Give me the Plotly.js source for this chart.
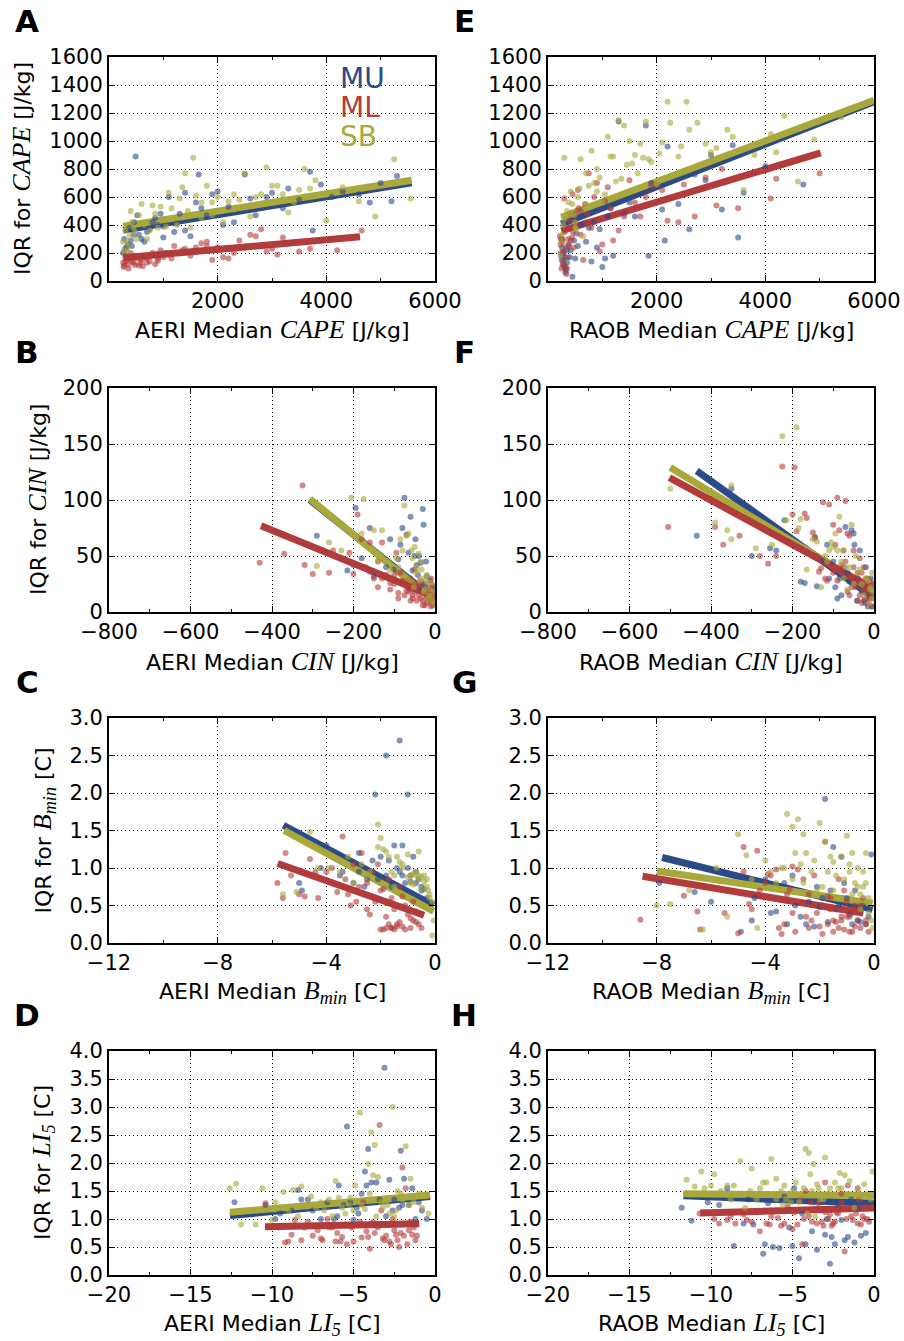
<!DOCTYPE html>
<html><head><meta charset="utf-8">
<script src="https://cdn.plot.ly/plotly-3.0.1.min.js"></script>
<style>html,body{margin:0;padding:0;background:#fff}</style>
</head><body><div id="chart" style="width:904px;height:1341px"></div>
<script>
// ---------- Panel A: AERI CAPE ----------
const aMuX=[300,350,400,450,490,520,600,700,800,900,1000,1100,1200,1300,1400,1500,1650,1700,1800,1900,2000,2100,2300,2500,2700,2900,3000,3200,3500,3700,3750,3900,4100,4300,4600,4800,5000,5300,5200,
 260,280,320,380,420,460,550,650,750,850,950,1250,1600,2200,2600,3300,1000,1400];
const aMuY=[230,260,290,330,890,470,300,350,420,400,310,600,350,480,630,320,760,520,470,620,640,400,420,760,470,600,630,520,580,780,360,690,600,640,620,560,700,750,570,
 200,300,240,380,250,420,330,280,370,450,480,410,560,530,590,660,390,360];
const aMlX=[280,300,320,350,380,400,450,500,550,600,650,700,750,800,850,900,950,1000,1100,1200,1300,1400,1500,1600,1700,1800,1900,2000,2100,2200,2400,2600,2700,2800,2900,3100,3200,3500,3700,4650,4200,
 260,270,300,330,360,420,480,520,580,620,700,900,1050,1150,1350,1600,1800,2300,2500,3000];
const aMlY=[110,140,190,120,160,200,130,180,110,150,170,130,140,200,120,160,220,170,190,250,200,230,180,210,270,280,150,240,170,160,290,330,320,370,210,190,310,210,230,360,220,
 130,100,170,150,90,140,115,160,130,105,165,145,200,160,220,240,250,200,240,230];
const aSbX=[280,320,360,400,450,500,600,700,800,900,1000,1100,1150,1250,1350,1400,1500,1550,1600,1700,1800,1900,2000,2100,2200,2300,2400,2500,2600,2800,2900,3000,3100,3300,3500,3600,3700,3800,4000,4300,4600,4900,5250,5550,
 260,300,340,380,420,480,550,650,750,850,950,1050,1300,1450,1700,1900,2300,2700,3200,3400];
const aSbY=[220,290,250,500,380,300,550,300,540,380,440,630,520,400,670,770,380,880,610,450,680,560,600,420,570,620,580,770,460,620,810,680,680,490,650,800,660,720,430,670,570,460,870,590,
 280,360,210,330,420,350,470,400,360,480,530,390,590,500,560,470,510,600,620,560];
const aFitMuX=[264,5570], aFitMuY=[364,701];
const aFitMlX=[264,4620], aFitMlY=[166,316];
const aFitSbX=[264,5570], aFitSbY=[392,720];

// ---------- Panel E: RAOB CAPE ----------
const eMuX=[250,280,300,320,350,400,450,500,550,600,700,800,900,1000,1050,1100,1200,1300,1400,1500,1600,1800,1850,1900,2100,2150,2200,2400,2600,2700,2900,3000,3200,3400,3500,3600,4000,4700,250,350,
 240,260,270,290,310,330,380,420,480,520,650,750,850,950,1150];
const eMuY=[180,150,100,60,130,170,30,160,250,400,280,140,240,100,160,460,180,1140,480,560,460,1110,180,700,510,290,960,550,370,760,720,900,510,970,310,630,820,690,300,220,
 300,240,120,200,170,80,260,220,290,340,410,380,420,370,520];
const eMlX=[230,250,260,280,300,320,340,360,380,400,420,450,480,500,550,600,650,700,750,800,900,950,1000,1050,1100,1200,1300,1400,1500,1600,1700,1800,1900,2000,2100,2200,2400,2500,2700,2900,3100,3200,3500,4100,4200,5000,
 220,240,250,270,290,310,330,350,370,390,410,440,460,520,560,600,680,720,850,1150];
const eMlY=[260,90,300,210,590,100,50,170,250,480,290,620,240,480,650,500,150,420,770,380,700,210,260,570,670,290,360,460,720,560,460,600,680,690,650,430,420,690,460,740,540,800,520,590,730,770,
 320,200,150,280,120,350,240,90,300,380,430,310,350,410,520,330,550,480,600,520];
const eSbX=[230,260,300,350,400,450,500,550,600,650,700,800,850,900,1000,1100,1150,1250,1300,1400,1500,1550,1600,1700,1750,1800,1900,2000,2100,2200,2250,2400,2550,2600,2750,2900,3000,3100,3300,3400,3600,3800,4100,4200,4350,4600,4900,5400,300,500,
 240,280,320,380,420,480,520,580,700,750,900,950,1050,1200,1350,1450,1650,1850,2050,2450];
const eSbY=[180,330,880,500,480,550,420,600,870,320,770,930,700,800,560,1030,890,710,1150,1110,1000,840,900,980,880,1140,850,690,990,1280,1130,890,1280,1080,1130,980,920,950,1080,1030,650,900,1050,920,1180,710,1010,1170,440,380,
 290,400,460,560,640,470,370,660,550,680,640,740,620,890,730,830,770,870,910,960];
const eFitMuX=[245,6000], eFitMuY=[407,1280];
const eFitMlX=[245,5020], eFitMlY=[359,915];
const eFitSbX=[245,6000], eFitSbY=[456,1291];

// ---------- Panel B: AERI CIN ----------
const bMuX=[-290,-215,-195,-160,-150,-110,-90,-80,-75,-70,-65,-60,-55,-50,-45,-40,-35,-30,-28,-25,-20,-15,-10,-5,-180,-100,-120,
 -85,-62,-48,-42,-38,-32,-22,-18,-12,-8,-4,-2];
const bMuY=[68,37,93,75,32,65,47,75,102,69,53,85,37,50,42,50,44,92,78,25,32,20,15,10,48,38,40,
 60,28,65,33,20,25,45,18,28,12,22,8];
const bMlX=[-430,-370,-325,-320,-300,-260,-250,-210,-200,-190,-180,-170,-160,-150,-140,-130,-120,-110,-100,-95,-90,-85,-80,-75,-70,-65,-60,-55,-50,-45,-40,-35,-30,-25,-20,-15,-10,-8,-5,-3,-60,-40,-20,-10,-50,-30,-200,-140,
 -70,-65,-60,-55,-50,-45,-40,-35,-30,-25,-22,-18,-15,-12,-10,-8,-6,-4,-2,-1,-90,-110,-130,-160,-100];
const bMlY=[44,52,113,42,34,35,55,53,42,87,65,40,62,30,22,62,33,20,25,53,17,35,28,15,19,18,30,12,25,20,15,28,10,22,8,18,5,20,12,8,10,25,14,30,38,6,34,45,
 28,22,20,15,18,10,24,12,18,6,16,12,22,14,9,25,6,16,11,20,12,26,30,36,33];
const bSbX=[-290,-260,-205,-175,-150,-130,-110,-95,-85,-80,-75,-70,-65,-60,-55,-50,-45,-40,-35,-30,-25,-20,-15,-10,-5,-180,-140,-230,
 -90,-68,-58,-52,-46,-38,-33,-27,-22,-17,-12,-8,-4,-2];
const bSbY=[41,62,102,101,73,73,37,48,65,55,95,68,70,28,48,58,35,52,45,30,20,33,15,26,10,70,46,55,
 40,30,55,22,40,28,38,18,28,12,20,14,8,18];
const bFitMuX=[-307,-3], bFitMuY=[100,12];
const bFitMlX=[-427,-3], bFitMlY=[77,14];
const bFitSbX=[-307,-3], bFitSbY=[101,10];

// ---------- Panel F: RAOB CIN ----------
const fMuX=[-435,-350,-300,-255,-240,-220,-180,-170,-145,-140,-125,-110,-100,-90,-75,-70,-60,-55,-50,-40,-35,-30,-25,-20,-15,-10,-5,-115,-65,
 -95,-85,-80,-48,-42,-28,-22,-18,-12,-8,-4];
const fMuY=[68,110,50,57,55,82,27,26,67,23,46,30,45,12,37,76,27,73,70,30,55,18,10,40,5,20,15,60,35,
 22,30,15,60,10,25,8,20,12,30,5];
const fMlX=[-505,-390,-370,-330,-280,-260,-240,-225,-200,-195,-190,-170,-165,-150,-145,-135,-130,-125,-120,-110,-100,-95,-90,-85,-80,-75,-70,-65,-60,-55,-50,-45,-40,-35,-30,-25,-20,-15,-10,-5,-60,-40,-20,-30,-100,-140,-115,
 -50,-45,-40,-35,-30,-28,-25,-22,-20,-18,-15,-12,-10,-8,-6,-4,-2,-1,-70,-80,-90,-55,-65,-75];
const fMlY=[76,76,60,68,50,43,50,130,87,129,72,88,84,71,66,36,39,98,30,96,78,60,102,73,42,55,99,70,68,30,55,22,35,48,27,40,18,30,12,25,15,10,20,8,35,50,28,
 40,25,30,15,35,20,25,12,30,22,8,18,28,15,5,20,12,25,45,35,28,22,18,40];
const fSbX=[-500,-390,-360,-350,-350,-290,-250,-225,-215,-190,-185,-180,-165,-150,-140,-130,-120,-110,-100,-95,-85,-80,-75,-65,-55,-45,-40,-30,-20,-10,-5,-90,-60,
 -115,-105,-75,-70,-50,-35,-25,-15,-12,-8,-5,-3];
const fSbY=[110,80,73,113,65,57,60,157,82,165,75,83,38,65,63,22,50,55,58,70,85,45,55,20,78,50,35,25,30,20,12,55,40,
 45,62,30,40,25,38,15,28,8,22,35,18];
const fFitMuX=[-435,-5], fFitMuY=[126,14];
const fFitMlX=[-502,-2], fFitMlY=[120,21];
const fFitSbX=[-500,-5], fFitSbY=[129,20];

// ---------- Panel C: AERI Bmin ----------
const cMuX=[-5.0,-4.9,-4.2,-4.0,-3.5,-3.0,-2.8,-2.5,-2.2,-2.0,-1.8,-1.7,-1.6,-1.5,-1.3,-1.2,-1.0,-0.9,-0.8,-0.7,-0.6,-0.5,-0.3,-1.8,-2.1,-1.0,-1.3,-2.6,-3.4,
 -1.4,-1.2,-1.1,-0.9,-0.7,-0.5,-0.4,-0.2,-2.3,-2.8];
const cMuY=[0.8,0.7,1.0,1.3,0.9,0.8,1.2,0.85,1.98,1.15,2.5,1.1,0.75,1.3,2.7,1.3,1.98,0.9,1.15,0.8,0.85,0.75,0.6,0.9,0.85,1.0,0.95,0.75,0.95,
 1.0,0.9,0.8,0.82,0.95,0.7,0.72,0.55,1.1,0.95];
const cMlX=[-5.8,-5.6,-5.5,-5.3,-5.0,-4.8,-4.6,-4.3,-4.0,-3.8,-3.6,-3.4,-3.2,-3.0,-2.9,-2.7,-2.5,-2.4,-2.2,-2.0,-1.9,-1.8,-1.7,-1.6,-1.5,-1.4,-1.3,-1.2,-1.1,-1.0,-0.9,-0.8,-0.7,-0.6,-0.5,-2.1,-1.6,-1.4,-1.9,-2.2,-3.1,-4.4,
 -2.5,-2.3,-2.0,-1.8,-1.6,-1.5,-1.3,-1.2,-1.1,-0.9,-0.8,-0.7,-1.7,-2.8,-3.3];
const cMlY=[0.8,0.6,1.2,0.9,0.65,0.62,1.12,0.6,0.95,1.0,0.68,1.42,0.65,1.05,0.55,1.2,0.8,0.38,0.55,0.18,0.72,0.35,0.25,0.2,0.45,0.22,0.28,0.62,0.18,0.38,0.33,0.55,0.28,0.25,0.2,1.05,0.2,0.25,0.18,0.6,0.5,0.95,
 0.45,0.95,0.7,0.2,0.6,0.18,0.75,0.22,0.5,0.2,0.3,0.42,0.85,0.75,0.85];
const cSbX=[-5.6,-5.1,-4.6,-4.3,-3.9,-3.5,-3.0,-2.7,-2.4,-2.1,-2.0,-1.9,-1.8,-1.6,-1.5,-1.4,-1.2,-1.0,-0.9,-0.8,-0.7,-0.6,-0.5,-0.4,-0.3,-0.2,-0.1,-0.05,-2.1,-1.3,-0.6,-0.2,-0.1,
 -1.7,-1.5,-1.2,-1.0,-0.9,-0.8,-0.7,-0.6,-0.5,-0.4,-0.3,-0.25,-0.15,-2.5,-3.2];
const cSbY=[0.65,0.68,1.48,1.0,1.0,0.95,0.8,1.05,0.95,1.58,1.4,1.25,1.22,0.95,0.75,1.15,1.0,1.18,0.9,0.92,0.9,0.85,0.88,0.82,0.75,0.65,0.55,0.3,1.28,1.08,1.22,0.6,0.1,
 1.15,0.9,1.05,0.88,0.8,0.78,0.95,0.9,0.72,0.9,0.85,0.7,0.45,0.9,1.15];
const cFitMuX=[-5.58,-0.05], cFitMuY=[1.57,0.5];
const cFitMlX=[-5.79,-0.4], cFitMlY=[1.06,0.37];
const cFitSbX=[-5.55,-0.05], cFitSbY=[1.50,0.42];

// ---------- Panel G: RAOB Bmin ----------
const gMuX=[-7.9,-6.6,-6.0,-4.9,-4.5,-4.0,-3.6,-3.2,-3.0,-2.7,-2.4,-2.0,-1.8,-1.7,-1.5,-1.4,-1.2,-1.0,-0.8,-0.6,-0.4,-0.2,-0.1,-1.1,-2.2,-3.8,-1.6,-0.5,
 -3.3,-2.9,-2.5,-2.1,-1.9,-1.3,-0.9,-0.7,-0.3,-4.4];
const gMuY=[0.8,0.68,0.55,0.15,0.3,0.85,0.42,0.25,0.9,0.35,0.55,0.48,1.92,0.28,1.28,0.45,1.15,0.6,0.25,0.3,0.5,0.35,1.18,0.8,0.22,0.4,0.7,0.28,
 0.8,0.5,0.25,0.75,0.6,0.5,0.38,0.7,0.25,0.6];
const gMlX=[-8.6,-7.0,-6.5,-6.4,-5.0,-4.8,-4.6,-4.5,-4.3,-4.0,-3.8,-3.6,-3.4,-3.2,-3.0,-2.9,-2.7,-2.5,-2.4,-2.2,-2.0,-1.9,-1.8,-1.7,-1.6,-1.5,-1.4,-1.3,-1.2,-1.1,-1.0,-0.9,-0.8,-0.7,-0.6,-0.5,-0.4,-0.3,-2.8,-3.1,-1.2,-0.9,-2.3,-1.6,-3.5,-4.2,
 -3.9,-3.3,-2.6,-2.1,-1.9,-1.7,-1.5,-1.3,-1.1,-1.0,-0.8,-0.7,-0.5,-0.3,-0.2,-2.4,-3.0,-1.4,-4.8,-5.5];
const gMlY=[0.31,0.63,0.42,0.18,0.13,1.28,0.52,0.45,1.23,0.8,0.9,0.98,0.12,0.65,1.02,0.15,0.55,0.35,0.2,0.9,0.22,0.5,1.35,0.25,0.6,0.15,0.45,0.85,0.3,0.18,0.55,0.35,0.4,0.22,0.3,0.5,0.6,0.25,0.98,0.72,0.35,0.15,0.3,0.45,0.2,0.7,
 0.92,0.25,0.85,0.4,0.12,0.62,0.3,0.2,0.7,0.35,0.15,0.5,0.2,0.3,0.15,0.65,0.4,0.28,0.95,0.4];
const gSbX=[-8.0,-7.5,-6.8,-6.3,-5.4,-5.0,-4.7,-4.3,-4.0,-3.6,-3.2,-3.0,-2.9,-2.8,-2.6,-2.5,-2.3,-2.0,-1.8,-1.6,-1.5,-1.4,-1.2,-1.0,-0.9,-0.8,-0.7,-0.6,-0.5,-0.4,-0.3,-0.2,-0.1,-0.05,-2.1,-1.3,-3.3,-0.3,
 -3.8,-3.4,-3.0,-2.6,-2.2,-1.9,-1.7,-1.5,-1.2,-1.1,-0.9,-0.8,-0.6,-0.5,-0.4,-0.3,-0.2,-2.7,-4.5,-5.8];
const gSbY=[0.5,0.52,0.7,0.18,0.35,1.45,1.17,0.2,1.1,0.8,1.72,1.55,1.2,1.65,1.45,1.2,0.95,1.6,1.35,1.15,1.08,0.9,1.15,1.43,0.95,1.2,0.8,1.0,0.65,0.75,0.55,0.4,0.3,0.2,0.7,0.6,1.0,1.2,
 0.95,1.0,0.85,0.8,1.1,0.75,0.95,0.7,0.6,0.85,1.05,0.65,0.75,0.45,0.95,0.8,0.6,1.05,0.85,1.0];
const gFitMuX=[-7.8,-0.05], gFitMuY=[1.14,0.45];
const gFitMlX=[-8.52,-0.39], gFitMlY=[0.89,0.40];
const gFitSbX=[-7.99,-0.05], gFitSbY=[0.96,0.53];

// ---------- Panel D: AERI LI5 ----------
const dMuX=[-12.3,-10.4,-9.5,-8.4,-8.2,-7.8,-7.0,-6.2,-5.9,-5.4,-5.2,-4.8,-4.5,-4.3,-4.1,-3.9,-3.6,-3.1,-2.8,-2.5,-2.1,-1.9,-1.6,-1.2,-0.8,-0.5,-3.0,-5.0,-2.2,-7.5,
 -9.8,-8.8,-6.6,-6.0,-5.6,-4.7,-4.2,-3.4,-2.6,-2.0,-1.4,-1.0];
const dMuY=[1.3,1.25,1.1,1.52,1.35,1.35,1.0,1.0,1.6,2.65,1.3,1.2,1.45,1.85,2.25,1.65,1.65,3.7,1.7,1.35,2.22,1.72,1.25,1.0,1.15,1.0,1.05,0.98,1.2,1.15,
 1.0,1.15,1.3,1.05,1.25,1.1,1.6,1.35,1.15,1.25,1.55,1.3];
const dMlX=[-10.4,-9.6,-9.2,-9.0,-8.6,-8.2,-7.8,-7.5,-7.2,-6.9,-6.6,-6.3,-6.0,-5.7,-5.4,-5.1,-4.8,-4.5,-4.2,-4.0,-3.8,-3.6,-3.4,-3.2,-3.0,-2.8,-2.6,-2.4,-2.2,-2.0,-1.8,-1.6,-1.4,-1.2,-4.4,-3.3,-2.1,-1.5,-5.8,-7.0,
 -8.8,-8.0,-7.0,-6.5,-6.1,-5.5,-5.0,-4.6,-4.1,-3.7,-3.5,-3.1,-2.9,-2.7,-2.5,-2.3,-1.9,-1.7,-1.3,-1.1];
const dMlY=[1.28,0.85,0.58,0.6,0.98,0.62,0.95,0.7,0.8,0.62,1.0,0.85,0.75,0.68,0.55,0.85,0.9,0.67,0.78,0.47,0.95,0.88,2.68,0.65,0.7,0.6,1.0,0.72,0.5,1.92,1.55,0.8,0.72,0.62,1.3,1.15,0.75,0.95,0.6,0.9,
 0.72,0.85,0.65,0.85,0.6,0.9,0.6,0.95,0.68,0.75,0.85,0.62,0.9,0.55,0.8,0.62,0.7,0.55,0.85,0.7];
const dSbX=[-12.6,-12.2,-11.9,-11.0,-10.6,-10.0,-9.8,-9.3,-8.7,-8.2,-8.0,-7.6,-7.0,-6.5,-6.1,-5.7,-5.3,-4.9,-4.6,-4.3,-4.1,-3.9,-3.7,-3.5,-3.2,-3.0,-2.8,-2.6,-2.3,-2.0,-1.8,-1.5,-1.2,-0.8,-0.4,-3.8,-2.5,-5.2,-7.3,
 -9.0,-8.4,-6.8,-6.3,-5.9,-5.5,-5.0,-4.5,-4.0,-3.6,-3.3,-2.9,-2.4,-2.1,-1.6,-1.3,-1.0];
const dSbY=[1.55,1.63,0.9,0.9,1.55,0.98,1.3,1.48,1.52,1.58,1.25,1.4,1.3,1.35,1.68,1.2,1.25,1.6,2.9,1.18,1.98,2.55,2.32,1.75,1.2,1.3,1.1,3.0,1.5,1.35,2.3,1.72,1.4,1.2,1.1,1.78,1.05,1.38,1.2,
 1.15,1.05,1.15,1.05,1.38,1.1,1.15,1.25,1.45,1.05,1.3,1.25,1.15,1.45,1.25,1.3,1.45];
const dFitMuX=[-12.58,-0.3], dFitMuY=[1.06,1.40];
const dFitMlX=[-10.43,-0.96], dFitMlY=[0.86,0.915];
const dFitSbX=[-12.58,-0.3], dFitSbY=[1.12,1.43];

// ---------- Panel H: RAOB LI5 ----------
const hMuX=[-11.8,-11.2,-9.0,-8.6,-8.0,-7.4,-6.8,-6.2,-5.8,-5.2,-4.9,-4.6,-4.2,-3.8,-3.5,-3.0,-2.7,-2.4,-2.0,-1.8,-1.6,-1.2,-0.8,-0.5,-6.7,-3.2,-2.6,-5.0,
 -10.2,-9.5,-7.7,-6.5,-5.5,-4.4,-3.7,-2.9,-2.2,-1.4,-1.0,-0.3];
const hMuY=[1.2,0.97,1.55,0.52,0.92,0.9,0.38,0.5,0.48,0.85,1.55,0.3,0.55,0.78,0.45,0.72,0.2,0.55,0.98,0.62,0.68,0.58,0.7,0.75,0.55,1.3,0.68,0.52,
 1.3,1.25,1.35,1.28,1.4,1.1,1.3,1.0,1.25,1.35,1.2,1.3];
const hMlX=[-10.7,-9.8,-9.0,-8.5,-8.0,-7.5,-7.0,-6.6,-6.0,-5.7,-5.3,-5.0,-4.7,-4.4,-4.2,-4.0,-3.8,-3.6,-3.4,-3.2,-3.0,-2.8,-2.6,-2.4,-2.2,-2.0,-1.8,-1.6,-1.4,-1.2,-1.0,-0.8,-0.6,-0.4,-0.2,-3.0,-2.0,-1.0,-4.5,-6.3,-2.3,-0.9,
 -9.5,-8.8,-7.8,-7.2,-6.4,-5.9,-5.5,-4.9,-4.3,-3.9,-3.5,-3.1,-2.7,-2.5,-2.1,-1.7,-1.3,-1.1,-0.7,-0.3];
const hMlY=[1.1,1.0,0.98,0.92,1.08,0.95,0.78,0.92,1.15,0.88,1.22,0.82,0.9,0.55,1.5,1.05,0.95,1.18,1.28,0.95,1.12,1.0,0.88,0.95,1.1,1.3,0.42,1.6,1.05,1.18,0.92,0.9,1.0,1.0,1.2,1.65,1.45,1.55,1.35,1.05,1.12,1.35,
 0.92,1.05,0.98,1.12,0.9,1.02,0.92,1.12,1.0,1.3,0.92,0.88,1.08,0.92,1.2,1.0,0.98,1.1,1.05,0.95];
const hSbX=[-11.5,-11.0,-10.6,-10.4,-10.0,-9.8,-9.0,-8.6,-8.2,-7.9,-7.5,-7.0,-6.6,-6.3,-6.0,-5.7,-5.4,-5.1,-4.8,-4.5,-4.2,-4.0,-3.9,-3.7,-3.5,-3.3,-3.0,-2.7,-2.4,-2.1,-1.8,-1.5,-1.2,-0.8,-0.4,-0.1,-4.1,-3.6,-5.6,-2.0,
 -10.8,-9.4,-8.8,-7.6,-7.2,-6.8,-6.0,-5.5,-5.0,-4.6,-4.3,-3.8,-3.4,-3.1,-2.8,-2.2,-1.6,-1.0,-0.6,-0.2];
const hSbY=[1.7,1.58,1.85,1.55,1.6,1.8,1.6,1.6,2.03,1.2,1.9,1.55,1.65,2.07,1.72,1.5,1.35,1.3,1.65,1.42,2.25,2.18,1.8,1.98,1.62,1.35,2.1,1.55,1.65,1.82,1.78,1.68,1.2,1.4,1.45,1.85,1.1,1.05,1.25,1.55,
 1.45,1.5,1.35,1.5,1.35,1.65,1.35,1.6,1.5,1.3,1.55,1.5,1.55,1.35,1.45,1.55,1.45,1.5,1.62,1.35];
const hFitMuX=[-11.69,0], hFitMuY=[1.415,1.28];
const hFitMlX=[-10.66,0], hFitMlY=[1.105,1.195];
const hFitSbX=[-11.69,0], hFitSbY=[1.45,1.42];

// ---------- labels ----------
const seriesNames=['MU','ML','SB'];
const panelLetters=['A','E','B','F','C','G','D','H'];
const ser=(t)=>`<span style="font-family:'Liberation Serif';font-size:26px"><i>${t}</i></span>`;
const xTitles=[
 'AERI Median '+ser('CAPE')+' [J/kg]','RAOB Median '+ser('CAPE')+' [J/kg]',
 'AERI Median '+ser('CIN')+' [J/kg]','RAOB Median '+ser('CIN')+' [J/kg]',
 'AERI Median '+ser('B<sub>min</sub>')+' [C]','RAOB Median '+ser('B<sub>min</sub>')+' [C]',
 'AERI Median '+ser('LI<sub>5</sub>')+' [C]','RAOB Median '+ser('LI<sub>5</sub>')+' [C]'];
const yTitles=['IQR for '+ser('CAPE')+' [J/kg]','IQR for '+ser('CIN')+' [J/kg]',
 'IQR for '+ser('B<sub>min</sub>')+' [C]','IQR for '+ser('LI<sub>5</sub>')+' [C]'];

// ---------- build ----------
const W=904,H=1341;
const px=x=>x/W, py=y=>1-y/H;
const colMU='#2c4a87', colML='#b23b3b', colSB='#a9a93b';
const cols=[colMU,colML,colSB];

const panels=[
 {s:[[aMuX,aMuY],[aMlX,aMlY],[aSbX,aSbY]], f:[[aFitMuX,aFitMuY],[aFitMlX,aFitMlY],[aFitSbX,aFitSbY]]},
 {s:[[eMuX,eMuY],[eMlX,eMlY],[eSbX,eSbY]], f:[[eFitMuX,eFitMuY],[eFitMlX,eFitMlY],[eFitSbX,eFitSbY]]},
 {s:[[bMuX,bMuY],[bMlX,bMlY],[bSbX,bSbY]], f:[[bFitMuX,bFitMuY],[bFitMlX,bFitMlY],[bFitSbX,bFitSbY]]},
 {s:[[fMuX,fMuY],[fMlX,fMlY],[fSbX,fSbY]], f:[[fFitMuX,fFitMuY],[fFitMlX,fFitMlY],[fFitSbX,fFitSbY]]},
 {s:[[cMuX,cMuY],[cMlX,cMlY],[cSbX,cSbY]], f:[[cFitMuX,cFitMuY],[cFitMlX,cFitMlY],[cFitSbX,cFitSbY]]},
 {s:[[gMuX,gMuY],[gMlX,gMlY],[gSbX,gSbY]], f:[[gFitMuX,gFitMuY],[gFitMlX,gFitMlY],[gFitSbX,gFitSbY]]},
 {s:[[dMuX,dMuY],[dMlX,dMlY],[dSbX,dSbY]], f:[[dFitMuX,dFitMuY],[dFitMlX,dFitMlY],[dFitSbX,dFitSbY]]},
 {s:[[hMuX,hMuY],[hMlX,hMlY],[hSbX,hSbY]], f:[[hFitMuX,hFitMuY],[hFitMlX,hFitMlY],[hFitSbX,hFitSbY]]}
];
const rowX=[
 {range:[0,6000],tickvals:[2000,4000,6000],minor:1000},
 {range:[-800,0],dtick:200,minor:100},
 {range:[-12,0],dtick:4,minor:2},
 {range:[-20,0],dtick:5,minor:2.5}];
const rowY=[
 {range:[0,1600],dtick:200,fmt:''},
 {range:[0,200],dtick:50,fmt:''},
 {range:[0,3],dtick:0.5,fmt:'.1f'},
 {range:[0,4],dtick:0.5,fmt:'.1f'}];
const rowTop=[57,388,718,1051], rowBot=[281,612,943,1275];
const colL=[109,548], colR=[435,874];

const traces=[];
const layout={width:W,height:H,margin:{l:0,r:0,t:0,b:0},paper_bgcolor:'white',plot_bgcolor:'white',
  showlegend:false,font:{family:'DejaVu Sans',color:'black'},annotations:[]};
const common={showline:true,linecolor:'black',linewidth:2,mirror:'ticks',ticks:'inside',ticklen:6,tickwidth:1,
  tickcolor:'black',showgrid:true,gridcolor:'black',griddash:'1px,3px',gridwidth:1,zeroline:false,
  tickfont:{family:'DejaVu Sans',size:21,color:'black'},fixedrange:true};

panels.forEach((p,i)=>{
  const row=Math.floor(i/2), col=i%2, n=i+1;
  const xa=n===1?'x':'x'+n, ya=n===1?'y':'y'+n;
  // regression lines first, scatter on top
  [0,2,1].forEach(k=>{const d=p.f[k];traces.push({type:'scatter',mode:'lines',x:d[0],y:d[1],xaxis:xa,yaxis:ya,
    line:{color:cols[k],width:7},hoverinfo:'skip'});});
  p.s.forEach((d,k)=>traces.push({type:'scatter',mode:'markers',x:d[0],y:d[1],xaxis:xa,yaxis:ya,
    marker:{color:cols[k],size:6,opacity:0.6,line:{width:0}},hoverinfo:'skip'}));
  const rx=rowX[row], ry=rowY[row];
  const xo=Object.assign({},common,{domain:[px(colL[col]),px(colR[col])],range:rx.range,anchor:ya,
    minor:{dtick:rx.minor,ticks:'inside',ticklen:3,tickcolor:'black',showgrid:false}});
  if(rx.tickvals){xo.tickmode='array';xo.tickvals=rx.tickvals;} else {xo.dtick=rx.dtick;xo.tick0=0;}
  const yo=Object.assign({},common,{domain:[py(rowBot[row]),py(rowTop[row])],range:ry.range,anchor:xa,dtick:ry.dtick,tick0:0,tickformat:ry.fmt});
  layout[n===1?'xaxis':'xaxis'+n]=xo;
  layout[n===1?'yaxis':'yaxis'+n]=yo;
  const cx=(colL[col]+colR[col])/2;
  layout.annotations.push({text:xTitles[i],xref:'paper',yref:'paper',x:px(cx),y:py(rowBot[row]+49),
    xanchor:'center',yanchor:'middle',showarrow:false,font:{size:22,family:'DejaVu Sans',color:'black'}});
  layout.annotations.push({text:'<b>'+panelLetters[i]+'</b>',xref:'paper',yref:'paper',x:px(col?464:27),y:py(rowTop[row]-36),
    xanchor:'center',yanchor:'middle',showarrow:false,font:{size:31,family:'DejaVu Sans',color:'black'}});
  if(col===0){
    const yx=[22,37,43,43][row];
    layout.annotations.push({text:yTitles[row],xref:'paper',yref:'paper',x:px(yx),y:py((rowTop[row]+rowBot[row])/2),
      xanchor:'center',yanchor:'middle',textangle:-90,showarrow:false,font:{size:22,family:'DejaVu Sans',color:'black'}});
  }
});
[79,107,136].forEach((yy,k)=>layout.annotations.push({text:seriesNames[k],xref:'paper',yref:'paper',x:px(338),y:py(yy),
  xanchor:'left',yanchor:'middle',showarrow:false,font:{size:28,family:'DejaVu Sans',color:cols[k]}}));

Plotly.newPlot('chart',traces,layout,{staticPlot:true,displayModeBar:false});
</script></body></html>
